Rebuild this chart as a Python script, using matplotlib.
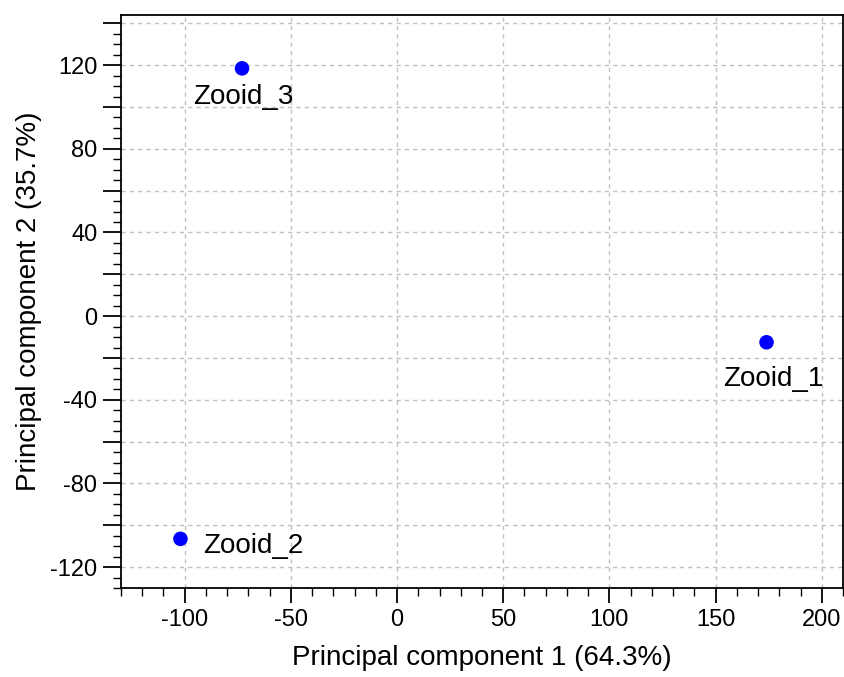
import matplotlib
matplotlib.use("Agg")
import matplotlib.pyplot as plt
from matplotlib.ticker import MultipleLocator

plt.rcParams["font.family"] = ["Liberation Sans", "DejaVu Sans"]
plt.rcParams["axes.unicode_minus"] = False

amostras = ["Zooid_1", "Zooid_2", "Zooid_3"]
pc1 = [174, -102, -73]
pc2 = [-12.5, -106.5, 118.5]
# offset (pontos) e alinhamento de cada rótulo
rotulos_pos = [
    ((5, -17), "center", "top"),
    ((16, -5), "left", "center"),
    ((1, -11), "center", "top"),
]
yticks = list(range(-120, 141, 20))

fig = plt.figure(figsize=(8.45, 6.77), dpi=100)
ax = fig.add_axes([0.1432, 0.1315, 0.8544, 0.8463])

ax.scatter(pc1, pc2, s=110, color="#0000ff", zorder=3, edgecolors="none")
for nome, x, y, (off, ha, va) in zip(amostras, pc1, pc2, rotulos_pos):
    ax.annotate(nome, (x, y), xytext=off, textcoords="offset points",
                ha=ha, va=va, fontsize=20)

ax.set_xlim(-130, 210)
ax.set_ylim(-130, 144)
ax.xaxis.set_major_locator(MultipleLocator(50))
ax.xaxis.set_minor_locator(MultipleLocator(10))
ax.yaxis.set_minor_locator(MultipleLocator(5))
ax.set_yticks(yticks)
ax.set_yticklabels([str(v) if v % 40 == 0 else "" for v in yticks])

ax.tick_params(axis="x", which="major", direction="out", length=11, width=1.3, labelsize=17, pad=4)
ax.tick_params(axis="x", which="minor", direction="out", length=6, width=1.0)
ax.tick_params(axis="y", which="major", direction="out", length=13, width=1.3, labelsize=17, pad=4)
ax.tick_params(axis="y", which="minor", direction="out", length=6, width=1.0)
for sp in ax.spines.values():
    sp.set_linewidth(1.3)

ax.grid(True, which="major", linestyle=(0, (3, 3)), color="#c0c0c0", linewidth=1.0)
ax.set_axisbelow(True)

ax.set_xlabel("Principal component 1 (64.3%)", fontsize=20, labelpad=10)
ax.set_ylabel("Principal component 2 (35.7%)", fontsize=20, labelpad=6)

fig.savefig("out.png", dpi=100)
